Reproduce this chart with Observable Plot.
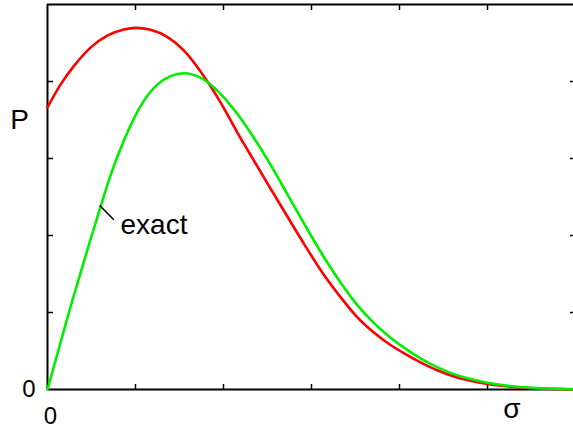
<!DOCTYPE html>
<html>
<head>
<meta charset="utf-8">
<script src="https://cdn.jsdelivr.net/npm/d3@7"></script>
<script src="https://cdn.jsdelivr.net/npm/@observablehq/plot@0.6"></script>
<style>
  html, body { margin: 0; padding: 0; background: #ffffff; }
  #chart svg { display: block; }
</style>
</head>
<body>
<div id="chart"></div>
<script>
// Approximate curve (red)
const redSigma = [0, 0.148, 0.299, 0.489, 0.678, 0.867, 1.0, 1.17, 1.36, 1.549, 1.739, 1.966, 2.156, 2.344, 2.534, 2.724, 2.913, 3.14, 3.33, 3.519, 3.708, 3.898, 4.088, 4.239, 4.428, 4.617, 4.807, 4.997, 5.185, 5.375, 5.565, 5.977];
const redP     = [3.666, 3.96, 4.2, 4.44, 4.595, 4.675, 4.697, 4.672, 4.58, 4.403, 4.13, 3.73, 3.34, 2.975, 2.61, 2.25, 1.895, 1.49, 1.2, 0.94, 0.74, 0.578, 0.447, 0.353, 0.25, 0.17, 0.113, 0.072, 0.045, 0.026, 0.013, 0.003];

// Exact curve (green)
const greenSigma = [0, 0.299, 0.489, 0.602, 0.716, 0.867, 1.057, 1.247, 1.398, 1.549, 1.739, 1.966, 2.156, 2.344, 2.534, 2.724, 2.913, 3.14, 3.33, 3.519, 3.708, 3.898, 4.088, 4.239, 4.428, 4.617, 4.807, 4.997, 5.185, 5.375, 5.565, 5.977];
const greenP     = [0, 1.22, 1.95, 2.37, 2.78, 3.23, 3.68, 3.96, 4.07, 4.108, 4.05, 3.84, 3.58, 3.27, 2.92, 2.54, 2.16, 1.72, 1.39, 1.1, 0.865, 0.672, 0.515, 0.405, 0.29, 0.2, 0.135, 0.088, 0.055, 0.032, 0.018, 0.004];

const xTicks = [0, 1, 2, 3, 4, 5];
const yTicks = [0, 1, 2, 3, 4];
const xTickLabels = ["0"];
const yTickLabels = ["0"];
const xLabel = "σ";
const yLabel = "P";
const annotation = "exact";
const annotationAt = {x: 0.83, y: 2.134};
const leader = {x1: 0.594, y1: 2.39, x2: 0.753, y2: 2.204};
const xLabelAt = 5.278;
const yLabelAt = 3.5;

const red = redSigma.map((s, i) => ({s, p: redP[i]}));
const green = greenSigma.map((s, i) => ({s, p: greenP[i]}));

const font = "'Liberation Sans', Arial, Helvetica, sans-serif";

const chart = Plot.plot({
  width: 573,
  height: 429,
  marginLeft: 47,
  marginRight: 0,
  marginTop: 4,
  marginBottom: 40,
  style: {fontFamily: font, background: "#ffffff", color: "#000"},
  x: {domain: [0, 5.977], axis: null},
  y: {domain: [0, 5], axis: null},
  marks: [
    // tick marks (inward)
    Plot.axisX({anchor: "bottom", ticks: xTicks.slice(1), tickSize: -5, tickFormat: () => "", strokeWidth: 1.5}),
    Plot.axisX({anchor: "top", ticks: xTicks.slice(1), tickSize: -5, tickFormat: () => "", strokeWidth: 1.5}),
    Plot.axisY({anchor: "left", ticks: yTicks.slice(1), tickSize: -6, tickFormat: () => "", strokeWidth: 1.5}),
    Plot.axisY({anchor: "right", ticks: yTicks.slice(1), tickSize: -4, tickFormat: () => "", strokeWidth: 1.5}),
    // tick labels
    Plot.axisX({anchor: "bottom", ticks: [0], tickSize: 0, tickPadding: 17, dx: 3, fontSize: 24, tickFormat: (d, i) => xTickLabels[i]}),
    Plot.axisY({anchor: "left", ticks: [0], tickSize: 0, tickPadding: 12, fontSize: 24, tickFormat: (d, i) => yTickLabels[i]}),
    // frame
    Plot.ruleX([0], {stroke: "#000", strokeWidth: 2}),
    Plot.ruleY([0], {stroke: "#000", strokeWidth: 2}),
    Plot.ruleY([5], {stroke: "#000", strokeWidth: 2}),
    // curves
    Plot.line(red, {x: "s", y: "p", stroke: "#ff0000", strokeWidth: 2.6, curve: "monotone-x"}),
    Plot.line(green, {x: "s", y: "p", stroke: "#00ee00", strokeWidth: 2.6, curve: "monotone-x"}),
    // annotation
    Plot.link([leader], {x1: "x1", y1: "y1", x2: "x2", y2: "y2", stroke: "#000", strokeWidth: 1.6}),
    Plot.text([annotation], {x: annotationAt.x, y: annotationAt.y, text: d => d, textAnchor: "start", fontSize: 28, fill: "#000"}),
    // axis labels
    Plot.text([yLabel], {x: 0, y: yLabelAt, text: d => d, dx: -28, textAnchor: "middle", fontSize: 28, fill: "#000"}),
    Plot.text([xLabel], {x: xLabelAt, frameAnchor: "bottom", text: d => d, dy: 28, textAnchor: "middle", fontSize: 28, fill: "#000"})
  ]
});
document.getElementById("chart").appendChild(chart);
</script>
</body>
</html>
